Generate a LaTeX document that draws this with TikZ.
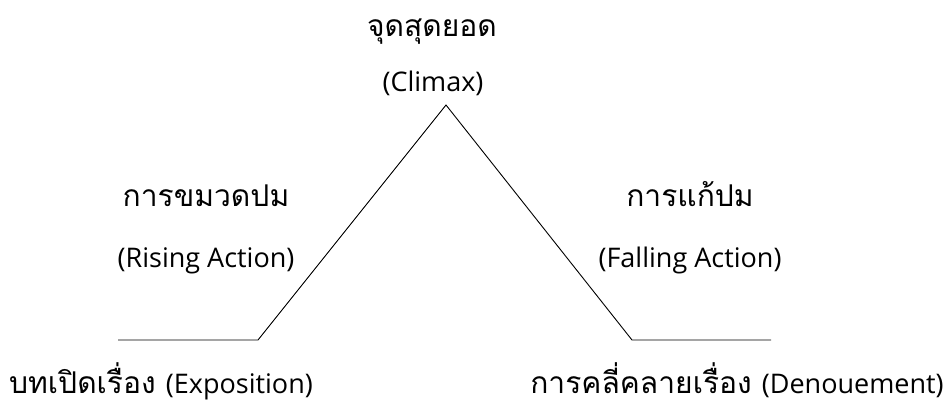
\documentclass[tikz,border=0pt]{standalone}
\usepackage{fontspec}
\setmainfont[Script=Thai]{Loma}
\newfontfamily\latfont[Scale=0.9]{Open Sans}
\begin{document}
\begin{tikzpicture}[x=1pt,y=-1pt,
  lbl/.style={inner sep=0pt,anchor=base,font=\fontsize{30}{33}\selectfont},
  plot/.style={line width=0.9pt,black}]
\useasboundingbox (0,0) rectangle (949,405);
\coordinate (a) at (118,340);
\coordinate (b) at (258,340);
\coordinate (c) at (446,105);
\coordinate (d) at (632,340);
\coordinate (e) at (771,340);
\draw[plot] (a) -- (b) -- (c) -- (d) -- (e);
\node[lbl] (climaxth) at (432,36) {จุดสุดยอด};
\node[lbl] (climaxen) at (433,91) {\latfont(Climax)};
\node[lbl] (risingth) at (206,206) {การขมวดปม};
\node[lbl] (risingen) at (206,267) {\latfont(Rising Action)};
\node[lbl] (fallingth) at (690,206) {การแก้ปม};
\node[lbl] (fallingen) at (690,267) {\latfont(Falling Action)};
\node[lbl] (expo) at (161,393) {บทเปิดเรื่อง {\latfont(Exposition)}};
\node[lbl] (deno) at (737,393) {การคลี่คลายเรื่อง {\latfont(Denouement)}};
\end{tikzpicture}
\end{document}
